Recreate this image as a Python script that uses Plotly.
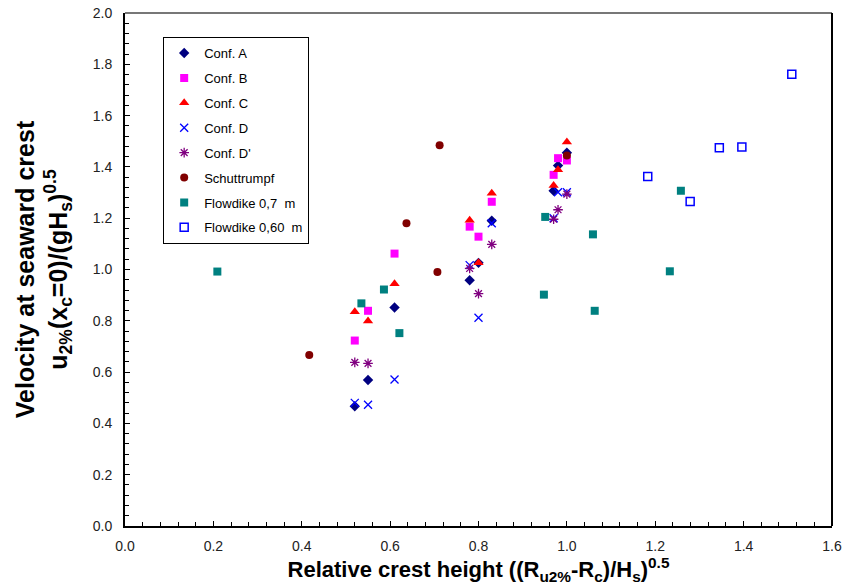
import plotly.graph_objects as go

# ---- data ----
a_x = [0.52, 0.55, 0.61, 0.78, 0.80, 0.83, 0.97, 0.98, 1.00]
a_y = [0.467, 0.569, 0.852, 0.958, 1.026, 1.190, 1.307, 1.405, 1.455]

b_x = [0.52, 0.55, 0.61, 0.78, 0.80, 0.83, 0.97, 0.98, 1.00]
b_y = [0.723, 0.839, 1.062, 1.167, 1.128, 1.264, 1.369, 1.434, 1.425]

c_x = [0.52, 0.55, 0.61, 0.78, 0.80, 0.83, 0.97, 0.98, 1.00]
c_y = [0.835, 0.799, 0.944, 1.192, 1.026, 1.297, 1.327, 1.389, 1.497]

d_x = [0.52, 0.55, 0.61, 0.78, 0.80, 0.83, 0.97, 0.98, 1.00]
d_y = [0.480, 0.473, 0.571, 1.017, 0.812, 1.180, 1.200, 1.301, 1.301]

dp_x = [0.52, 0.55, 0.78, 0.80, 0.83, 0.97, 0.98, 1.00]
dp_y = [0.638, 0.634, 1.004, 0.906, 1.098, 1.196, 1.233, 1.294]

s_x = [0.417, 0.637, 0.707, 0.712, 1.00]
s_y = [0.667, 1.180, 0.990, 1.484, 1.444]

f7_x = [0.209, 0.535, 0.586, 0.621, 0.951, 0.948, 1.059, 1.063, 1.258, 1.233]
f7_y = [0.992, 0.868, 0.922, 0.752, 1.205, 0.902, 1.137, 0.839, 1.307, 0.993]

f6_x = [1.183, 1.279, 1.345, 1.396, 1.509]
f6_y = [1.363, 1.265, 1.475, 1.478, 1.761]

series = [
    ("Conf. A", a_x, a_y, dict(symbol="diamond", color="#000080", size=8)),
    ("Conf. B", b_x, b_y, dict(symbol="square", color="#FF00FF", size=8)),
    ("Conf. C", c_x, c_y, dict(symbol="triangle-up", color="#FF0000", size=9)),
    ("Conf. D", d_x, d_y, dict(symbol="x-thin-open", color="#0000FF", size=8,
                               line=dict(color="#0000FF", width=1.3))),
    ("Conf. D'", dp_x, dp_y, dict(symbol="asterisk-open", color="#800080", size=8,
                                  line=dict(color="#800080", width=1.3))),
    ("Schuttrumpf", s_x, s_y, dict(symbol="circle", color="#800000", size=8)),
    ("Flowdike 0,7  m", f7_x, f7_y, dict(symbol="square", color="#008080", size=8)),
    ("Flowdike 0,60  m", f6_x, f6_y, dict(symbol="square-open", color="#0000FF", size=8,
                                          line=dict(color="#0000FF", width=1.5))),
]

fig = go.Figure()
for i, (name, xs, ys, mk) in enumerate(series):
    fig.add_trace(go.Scatter(x=xs, y=ys, mode="markers", name=name, marker=mk,
                             legendgroup=f"g{i}"))

font_family = "Liberation Sans, Arial, sans-serif"

fig.update_layout(
    width=845, height=586,
    margin=dict(l=125, r=13, t=13, b=60),
    plot_bgcolor="white", paper_bgcolor="white",
    font=dict(family=font_family, color="black", size=14),
    showlegend=True,
    legend=dict(
        x=0.054, y=0.953, xanchor="left", yanchor="top",
        bgcolor="white", bordercolor="black", borderwidth=1,
        font=dict(size=13, family=font_family, color="black"),
        tracegroupgap=5,
    ),
    xaxis=dict(
        range=[0, 1.6], dtick=0.2, tickformat=".1f", automargin=False,
        showgrid=False, zeroline=False,
        showline=True, linecolor="black", linewidth=2,
        ticks="inside", ticklen=5, tickcolor="black",
        minor=dict(ticks="inside", dtick=0.04, ticklen=4, tickcolor="black", showgrid=False),
        tickfont=dict(size=14, color="#222"), ticklabelstandoff=6,
        title=dict(text="Relative crest height ((R<sub>u2%</sub>-R<sub>c</sub>)/H<sub>s</sub>)<sup>0.5</sup>",
                   font=dict(size=22, family=font_family, color="black", weight="bold"),
                   standoff=4),
    ),
    yaxis=dict(
        range=[0, 2.0], dtick=0.2, tickformat=".1f", automargin=False,
        showgrid=False, zeroline=False,
        showline=True, linecolor="black", linewidth=2,
        ticks="inside", ticklen=5, tickcolor="black",
        minor=dict(ticks="inside", dtick=0.04, ticklen=4, tickcolor="black", showgrid=False),
        tickfont=dict(size=14, color="#222"), ticklabelstandoff=8,
        title=dict(text="Velocity at seaward crest<br>u<sub>2%</sub>(x<sub>c</sub>=0)/(gH<sub>s</sub>)<sup>0.5</sup>",
                   font=dict(size=25, family=font_family, color="black", weight="bold"),
                   standoff=18),
    ),
    shapes=[
        dict(type="line", xref="paper", yref="paper", x0=0, x1=1, y0=1, y1=1,
             line=dict(color="#777777", width=2)),
        dict(type="line", xref="paper", yref="paper", x0=1, x1=1, y0=0, y1=1,
             line=dict(color="black", width=2)),
    ],
)

fig.write_html("out.html")
